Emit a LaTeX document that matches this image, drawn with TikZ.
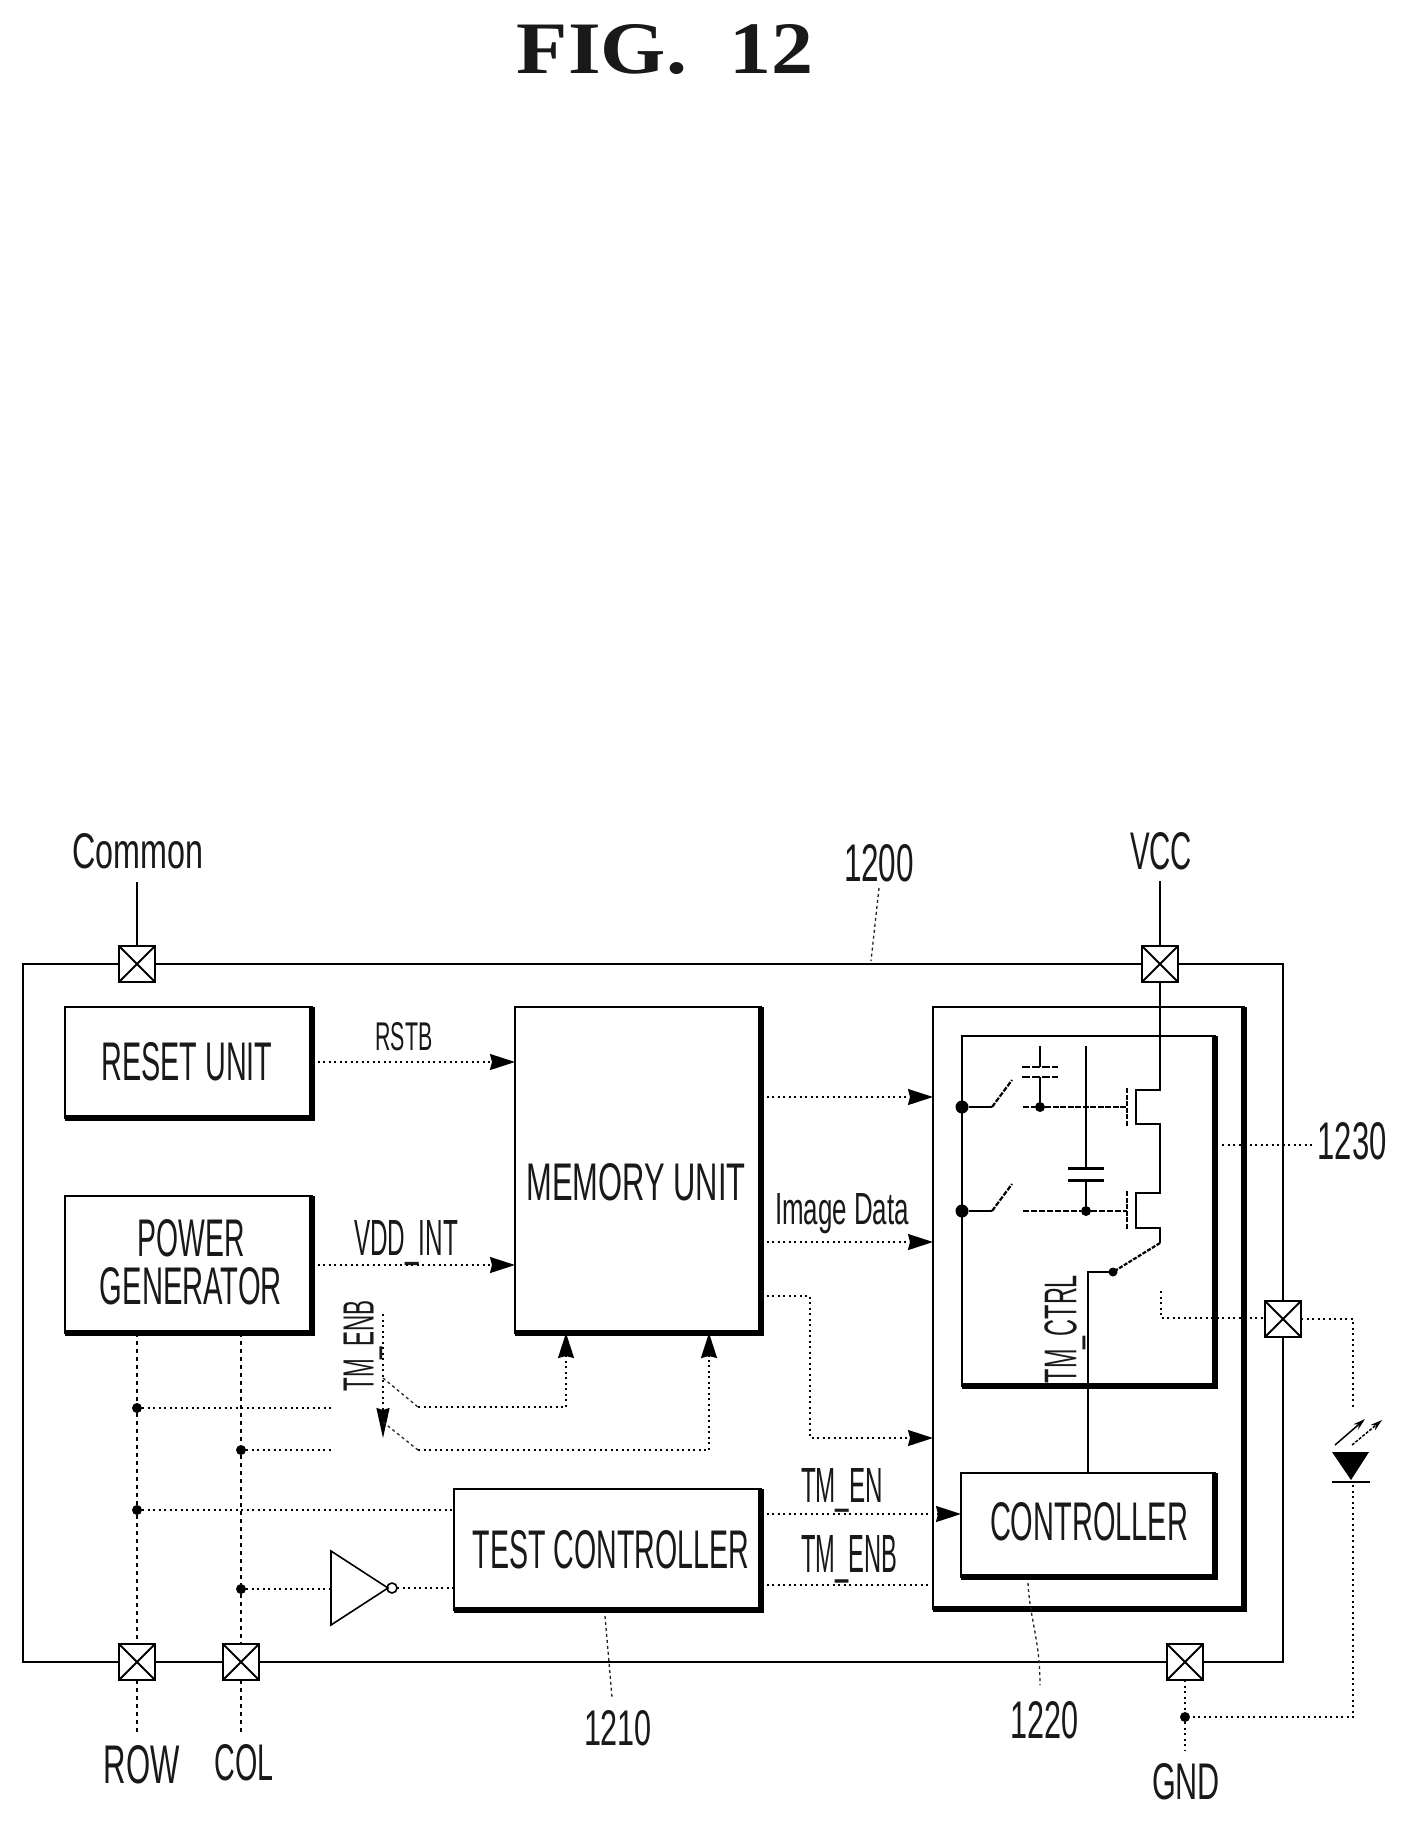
\documentclass[tikz,border=0pt]{standalone}
\usepackage{fontspec}
\setmainfont{Liberation Sans}
\newfontfamily\figfont{Liberation Serif}
\usetikzlibrary{arrows.meta,calc}
\tikzset{
  blk/.style={draw=black,line width=2.6pt,anchor=north west,inner sep=0pt,outer sep=0pt},
  heavy/.style={draw=black,line width=6.5pt,line cap=square},
  chipline/.style={draw=black,line width=2.8pt},
  pw/.style={draw=black,line width=2.8pt},
  sig/.style={draw=black,line width=1.7pt,dash pattern=on 2pt off 3.5pt},
  bus/.style={draw=black,line width=1.5pt,dash pattern=on 3.5pt off 4.5pt},
  lead/.style={draw=black!85,line width=1.3pt,dash pattern=on 3pt off 3pt},
  padbox/.style={draw=black,line width=2.4pt,fill=white,minimum width=36pt,minimum height=36pt,inner sep=0pt,outer sep=0pt},
  jdot/.style={circle,fill=black,draw=none,minimum size=13pt,inner sep=0pt,outer sep=0pt},
  sdot/.style={circle,fill=black,draw=none,minimum size=10pt,inner sep=0pt,outer sep=0pt},
  hd/.style={-{Stealth[length=25pt,width=16pt,inset=2pt]}},
  txt/.style={inner sep=0pt,outer sep=0pt,text=black!90},
}
\newcommand{\Lbl}[6]{\node[txt] (#1) at (#2,#3) {\resizebox{#4pt}{#5pt}{#6}};}
\newcommand{\RLbl}[6]{\node[txt,rotate=90] (#1) at (#2,#3) {\resizebox{#4pt}{#5pt}{#6}};}
\newcommand{\Pad}[3]{\node[padbox] (#1) at (#2,#3) {};
  \draw[line width=1.9pt] (#1.north west) -- (#1.south east) (#1.north east) -- (#1.south west);}
\newcommand{\Blk}[5]{\node[blk,minimum width=#4pt,minimum height=#5pt] (#1) at (#2,#3) {};
  \draw[heavy] (#1.north east) -- (#1.south east) -- (#1.south west);}
\begin{document}
\begin{tikzpicture}[x=1pt,y=-1pt]
\useasboundingbox[fill=white] (0,0) rectangle (1410,1821);

% title
\node[txt] (fig) at (665,50) {\resizebox{296pt}{49pt}{\figfont\bfseries FIG.\ \ 12}};

% chip outline
\node[chipline,anchor=north west,minimum width=1260pt,minimum height=698pt,inner sep=0pt,outer sep=0pt] (chip) at (23,964) {};

% blocks
\Blk{reset}{65}{1007}{247}{111}
\Blk{power}{65}{1196}{247}{137}
\Blk{mem}{515}{1007}{246}{326}
\Blk{test}{454}{1489}{307}{121}
\Blk{drv}{933}{1007}{311}{602}
\Blk{inner}{962}{1036}{253}{350}
\Blk{ctrl}{961}{1473}{254}{104}

% block texts
\Lbl{tReset}{187}{1062}{171}{38}{RESET UNIT}
\Lbl{tPower}{191}{1238}{107}{37}{POWER}
\Lbl{tGen}{191}{1286}{182}{37}{GENERATOR}
\Lbl{tMem}{636}{1182}{219}{37}{MEMORY UNIT}
\Lbl{tTest}{611}{1550}{276}{38}{TEST CONTROLLER}
\Lbl{tCtrl}{1089}{1522}{198}{38}{CONTROLLER}

% terminal labels
\Lbl{lCommon}{138}{851}{131}{35}{Common}
\Lbl{lVcc}{1161}{851}{62}{37}{VCC}
\Lbl{lRow}{142}{1765}{76}{38}{ROW}
\Lbl{lCol}{244}{1763}{59}{36}{COL}
\Lbl{lGnd}{1186}{1782}{68}{36}{GND}

% reference numerals
\Lbl{n1200}{879}{863}{70}{37}{1200}
\Lbl{n1230}{1352}{1141}{69}{37}{1230}
\Lbl{n1210}{618}{1728}{68}{35}{1210}
\Lbl{n1220}{1044}{1720}{68}{37}{1220}

% signal labels
\Lbl{sRstb}{404}{1037}{57}{28}{RSTB}
\Lbl{sVdd}{406}{1243}{104}{35}{VDD\_INT}
\Lbl{sImg}{842}{1214}{134}{31}{Image Data}
\Lbl{sEn}{842}{1490}{82}{34}{TM\_EN}
\Lbl{sEnb}{849}{1559}{96}{37}{TM\_ENB}
\RLbl{sEnbR}{363}{1346}{91}{30}{TM\_ENB}
\RLbl{sCtrl}{1065}{1329}{108}{32}{TM\_CTRL}

% pads
\Pad{pCommon}{137}{964}
\Pad{pVcc}{1160}{964}
\Pad{pRow}{137}{1662}
\Pad{pCol}{241}{1662}
\Pad{pGnd}{1185}{1662}
\Pad{pLed}{1283}{1319}

% junction dots
\node[sdot] (a1) at (137,1408) {};
\node[sdot] (a2) at (241,1450) {};
\node[sdot] (a3) at (137,1510) {};
\node[sdot] (a4) at (241,1589) {};
\node[sdot] (g1) at (1185,1717) {};
\node[jdot] (sw1) at (962,1107) {};
\node[jdot] (sw2) at (962,1211) {};
\node[sdot] (c1d) at (1040,1107) {};
\node[sdot] (c2d) at (1086,1211) {};

% terminal wires
\draw[pw,line width=1.8pt] (137,882) coordinate (cT) -- (pCommon.north);
\draw[pw] (1160,881) coordinate (vT) -- (pVcc.north);
\draw[bus] (pRow.south) -- (137,1735) coordinate (rT);
\draw[bus] (pCol.south) -- (241,1735) coordinate (lT);
\draw[sig] (pGnd.south) -- (g1) -- (1185,1750) coordinate (gT);

% block signals
\draw[sig,hd] (reset.east |- 0,1062) -- (mem.west |- 0,1062);
\draw[sig,hd] (power.east |- 0,1265) -- (mem.west |- 0,1265);
\draw[sig,hd] (mem.east |- 0,1097) -- (drv.west |- 0,1097);
\draw[sig,hd] (mem.east |- 0,1242) -- (drv.west |- 0,1242);
\draw[sig,hd] (mem.east |- 0,1296) -- (810,1296) -- (810,1438) -- (drv.west |- 0,1438);
\draw[sig,hd] (test.east |- 0,1514) -- (ctrl.west |- 0,1514);
\draw[sig] (test.east |- 0,1585) -- (drv.west |- 0,1585);

% power lines
\draw[bus] (power.south -| pRow) -- (a1) -- (a3) -- (pRow.north);
\draw[bus] (power.south -| pCol) -- (a2) -- (a4) -- (pCol.north);
\draw[sig] (a1) -- (332,1408) coordinate (a1e);
\draw[sig] (a2) -- (334,1450) coordinate (a2e);
\draw[sig] (a3) -- (test.west |- a3);

% inverter
\coordinate (iA) at (331,1551);
\coordinate (iB) at (331,1625);
\coordinate (iT) at (388,1588);
\node[circle,draw=black,line width=1.6pt,minimum size=10pt,inner sep=0pt,outer sep=0pt] (inB) at (392,1588) {};
\draw[line width=1.6pt] (iA) -- (iB) -- (iT) -- cycle;
\draw[sig] (a4) -- (331,1589);
\draw[sig] (inB) -- (test.west |- inB);

% test-mode switches to memory
\coordinate (tm0) at (383,1314);
\coordinate (tm1) at (383,1378);
\coordinate (tm2) at (383,1422);
\draw[sig,-{Stealth[length=30pt,width=13pt,inset=2pt]}] (tm0) -- (383,1438) coordinate (tmA);
\draw[lead] (tm1) -- (418,1407) coordinate (k1);
\draw[lead] (tm2) -- (418,1450) coordinate (k2);
\draw[sig,hd] (k1) -- (566,1407) -- (mem.south -| 566,0);
\draw[sig,hd] (k2) -- (709,1450) -- (mem.south -| 709,0);

% pixel circuit: VCC to transistors
\coordinate (d1) at (1160,1090);
\coordinate (ch1a) at (1136,1090);
\coordinate (ch1b) at (1136,1124);
\coordinate (s1) at (1160,1124);
\coordinate (d2) at (1160,1193);
\coordinate (ch2a) at (1136,1193);
\coordinate (ch2b) at (1136,1228);
\coordinate (s2) at (1160,1228);
\coordinate (s2e) at (1160,1243);
\coordinate (swp) at (1113,1272);
\coordinate (tc) at (1088,1272);
\draw[pw] (pVcc.south) -- (d1) -- (ch1a) -- (ch1b) -- (s1) -- (d2) -- (ch2a) -- (ch2b) -- (s2) -- (s2e);
\draw[line width=2.2pt,dash pattern=on 4pt off 1.5pt] (s2e) -- (swp);
\node[sdot,minimum size=9pt] (swd) at (swp) {};
\draw[pw] (swd) -- (tc) -- (ctrl.north -| tc);
% gates
\draw[line width=2.4pt,dash pattern=on 5pt off 1.5pt] (1127,1088) coordinate (g1a) -- (1127,1126) coordinate (g1b);
\draw[line width=2.4pt,dash pattern=on 5pt off 1.5pt] (1127,1191) coordinate (g2a) -- (1127,1230) coordinate (g2b);
\draw[pw,dash pattern=on 6pt off 1.5pt] (1023,1107) coordinate (gw1) -- (c1d) -- (1127,1107);
\draw[pw,dash pattern=on 6pt off 2pt] (1023,1211) coordinate (gw2) -- (c2d) -- (1127,1211);
% capacitors
\draw[line width=2.2pt] (1040,1046) coordinate (c1t) -- (1040,1067) coordinate (c1p);
\draw[line width=2.2pt] (1040,1077) coordinate (c1q) -- (c1d);
\draw[line width=2.6pt,dash pattern=on 8pt off 2pt] (1022,1067) -- (1058,1067);
\draw[line width=2.6pt,dash pattern=on 8pt off 2pt] (1022,1077) -- (1058,1077);
\draw[line width=2.2pt] (1086,1046) coordinate (c2t) -- (1086,1168) coordinate (c2p);
\draw[line width=2.2pt] (1086,1180) coordinate (c2q) -- (c2d);
\draw[line width=3pt] (1068,1168) -- (1104,1168);
\draw[line width=3pt] (1068,1180) -- (1104,1180);
% input switches
\draw[line width=2.2pt] (sw1) -- (992,1107) coordinate (w1);
\draw[line width=2.2pt,dash pattern=on 5pt off 1.5pt] (w1) -- (1012,1080) coordinate (w1e);
\draw[line width=2.2pt] (sw2) -- (992,1211) coordinate (w2);
\draw[line width=2.2pt,dash pattern=on 5pt off 1.5pt] (w2) -- (1012,1184) coordinate (w2e);

% output to LED
\draw[sig] (1161,1291) coordinate (o0) -- (1161,1318) -- (pLed.west |- 0,1318);
\draw[sig] (pLed.east) -- (1353,1319) -- (1353,1407) coordinate (ledT);
\fill[black] (1332,1452) coordinate (lA) -- (1369,1452) coordinate (lB) -- (1351,1480) coordinate (lC) -- cycle;
\draw[line width=1.8pt] (1332,1482) -- (1370,1482);
\draw[line width=1.5pt,-{Stealth[length=12pt,width=7pt]}] (1335,1445) -- (1365,1419);
\draw[line width=1.5pt,dash pattern=on 3pt off 1.5pt,-{Stealth[length=12pt,width=7pt]}] (1352,1445) -- (1382,1420);
\draw[sig] (1353,1485) coordinate (ledB) -- (1353,1717) -- (g1);

% leaders
\draw[lead] (879,888) -- (871,961);
\draw[sig] (1222,1145) -- (1313,1145);
\draw[lead] (605,1616) -- (612,1697);
\draw[lead] (1028,1583) .. controls (1030,1620) and (1040,1640) .. (1040,1685);
\end{tikzpicture}
\end{document}
